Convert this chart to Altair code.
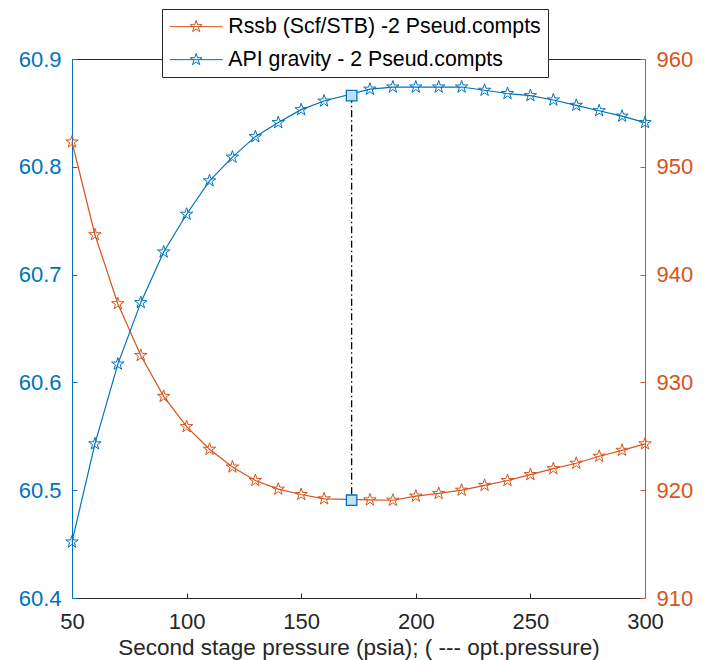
import altair as alt
import pandas as pd
import numpy as np

# ---------------- data ----------------
pressure = [50, 60, 70, 80, 90, 100, 110, 120, 130, 140, 150, 160,
            180, 190, 200, 210, 220, 230, 240, 250, 260, 270, 280, 290, 300]
api_gravity = [60.452, 60.543, 60.617, 60.674, 60.721, 60.756, 60.787, 60.809,
               60.828, 60.841, 60.853, 60.861, 60.872, 60.874, 60.874, 60.874,
               60.874, 60.871, 60.868, 60.866, 60.862, 60.857, 60.852, 60.847,
               60.841]
rssb = [952.3, 943.7, 937.3, 932.5, 928.7, 925.9, 923.8, 922.15, 920.9, 920.1,
        919.6, 919.2, 919.1, 919.07, 919.45, 919.7, 920.0, 920.45, 920.9,
        921.45, 922.0, 922.5, 923.15, 923.7, 924.3]
opt_pressure = [172]
opt_api = [60.866]
opt_rssb = [919.07]

series_names = ["Rssb (Scf/STB) -2 Pseud.compts", "API gravity - 2 Pseud.compts"]
series_colors = ["#D95319", "#0072BD"]

x_ticks = [50, 100, 150, 200, 250, 300]
left_ticks = [60.4, 60.5, 60.6, 60.7, 60.8, 60.9]
right_ticks = [910, 920, 930, 940, 950, 960]
left_domain = [60.4, 60.9]
right_domain = [910, 960]

BLUE = "#0072BD"
ORANGE = "#D95319"
DARK = "#262626"
FONT = "Liberation Sans"

api_df = pd.DataFrame({"p": pressure, "v": api_gravity, "s": series_names[1]})
rssb_df = pd.DataFrame({"p": pressure, "v": rssb, "s": series_names[0]})
# orange minimum expressed on the left (blue) scale: both scales share the pixel span
opt_df = pd.DataFrame({
    "p": opt_pressure,
    "api": opt_api,
    "rssb": opt_rssb,
    "rssb_on_left": [left_domain[0] + (r - right_domain[0]) / (right_domain[1] - right_domain[0])
                     * (left_domain[1] - left_domain[0]) for r in opt_rssb],
})


def star_path(cx, R):
    pts = []
    for i in range(10):
        ang = -np.pi / 2 + i * np.pi / 5
        r = R if i % 2 == 0 else R * 0.382
        pts.append((cx + r * np.cos(ang), r * np.sin(ang)))
    return "M" + "L".join(f"{a:.3f},{b:.3f}" for a, b in pts) + "Z"


STAR = star_path(0, 1.0)
legend_symbol = "M-1,0L4.3,0" + star_path(1.65, 0.62)

xscale = alt.Scale(domain=[50, 300], nice=False, zero=False)
lscale = alt.Scale(domain=left_domain, nice=False, zero=False)
rscale = alt.Scale(domain=right_domain, nice=False, zero=False)
cscale = alt.Scale(domain=series_names, range=series_colors)

x_label_axis = alt.Axis(orient="bottom", values=x_ticks, ticks=False, domain=True,
                        domainColor=DARK, labelColor=DARK, labelFontSize=22,
                        labelFont=FONT, labelPadding=13, grid=False, labelFlush=False,
                        labelOverlap=False,
                        title="Second stage pressure (psia); ( --- opt.pressure)",
                        titleFont=FONT, titleFontSize=22.5, titleFontWeight="normal",
                        titleColor=DARK, titlePadding=4)
x_tick_axis = alt.Axis(orient="bottom", values=x_ticks, ticks=True, tickSize=5,
                       tickColor=DARK, domain=False, labels=False, offset=-5,
                       grid=False, title=None)
x_top_axis = alt.Axis(orient="top", values=x_ticks, ticks=False, domain=True,
                      domainColor=DARK, labels=False, grid=False, title=None)

left_label_axis = alt.Axis(orient="left", values=left_ticks, format=".1f", ticks=False,
                           domain=True, domainColor=BLUE, labelColor=BLUE,
                           labelFontSize=22, labelFont=FONT, labelPadding=11,
                           labelFlush=False, labelOverlap=False,
                           grid=False, title=None)
left_tick_axis = alt.Axis(orient="left", values=left_ticks, ticks=True, tickSize=5,
                          tickColor=BLUE, domain=False, labels=False, offset=-5,
                          grid=False, title=None)
right_label_axis = alt.Axis(orient="right", values=right_ticks, format="d", ticks=False,
                            domain=True, domainColor=ORANGE, labelColor=ORANGE,
                            labelFontSize=22, labelFont=FONT, labelPadding=11,
                            labelFlush=False, labelOverlap=False,
                            grid=False, title=None)
right_tick_axis = alt.Axis(orient="right", values=right_ticks, ticks=True, tickSize=5,
                           tickColor=ORANGE, domain=False, labels=False, offset=-5,
                           grid=False, title=None)

legend = alt.Legend(title=None, orient="none", legendX=90, legendY=-50,
                    symbolType=legend_symbol, symbolSize=400, symbolStrokeWidth=1,
                    symbolFillColor="transparent", labelFont=FONT, labelFontSize=21.3,
                    labelColor="#000000", labelOffset=38, rowPadding=11,
                    labelLimit=600,
                    padding=7, fillColor="white", strokeColor=DARK)

orange_line = alt.Chart(rssb_df).mark_line(strokeWidth=1.2).encode(
    x=alt.X("p:Q", scale=xscale, axis=None),
    y=alt.Y("v:Q", scale=rscale, axis=right_label_axis),
    color=alt.Color("s:N", scale=cscale, legend=legend),
)
orange_pts = alt.Chart(rssb_df).mark_point(shape=STAR, filled=False, size=170,
                                           strokeWidth=1, color=ORANGE, opacity=1).encode(
    x=alt.X("p:Q", scale=xscale, axis=None),
    y=alt.Y("v:Q", scale=rscale, axis=right_tick_axis),
)
blue_line = alt.Chart(api_df).mark_line(strokeWidth=1.2).encode(
    x=alt.X("p:Q", scale=xscale, axis=x_label_axis),
    y=alt.Y("v:Q", scale=lscale, axis=left_label_axis),
    color=alt.Color("s:N", scale=cscale, legend=legend),
)
blue_pts = alt.Chart(api_df).mark_point(shape=STAR, filled=False, size=170,
                                        strokeWidth=1, color=BLUE, opacity=1).encode(
    x=alt.X("p:Q", scale=xscale, axis=x_tick_axis),
    y=alt.Y("v:Q", scale=lscale, axis=left_tick_axis),
)
opt_rule = alt.Chart(opt_df).mark_rule(color="black", strokeWidth=1.3,
                                       strokeDash=[7, 3, 1.5, 3]).encode(
    x=alt.X("p:Q", scale=xscale, axis=x_top_axis),
    y=alt.Y("api:Q", scale=lscale, axis=None),
    y2="rssb_on_left:Q",
)
sq_blue = alt.Chart(opt_df).mark_point(shape="square", filled=True, size=110,
                                       fill="#BFE1F7", stroke=BLUE, strokeWidth=1.3,
                                       opacity=1).encode(
    x=alt.X("p:Q", scale=xscale, axis=None),
    y=alt.Y("api:Q", scale=lscale, axis=None),
)
sq_orange = alt.Chart(opt_df).mark_point(shape="square", filled=True, size=110,
                                         fill="#BFE1F7", stroke=BLUE, strokeWidth=1.3,
                                         opacity=1).encode(
    x=alt.X("p:Q", scale=xscale, axis=None),
    y=alt.Y("rssb:Q", scale=rscale, axis=None),
)

chart = alt.layer(
    orange_line, orange_pts, blue_line, blue_pts, opt_rule, sq_blue, sq_orange
).resolve_scale(
    y="independent"
).resolve_axis(
    x="independent", y="independent"
).properties(
    width=573, height=539,
    autosize=alt.AutoSizeParams(type="none"),
    padding={"left": 64, "top": 51, "right": 56, "bottom": 62},
    background="white",
).configure_view(
    stroke=None
)

chart.save("out.html", embed_options={"renderer": "svg", "actions": False})
